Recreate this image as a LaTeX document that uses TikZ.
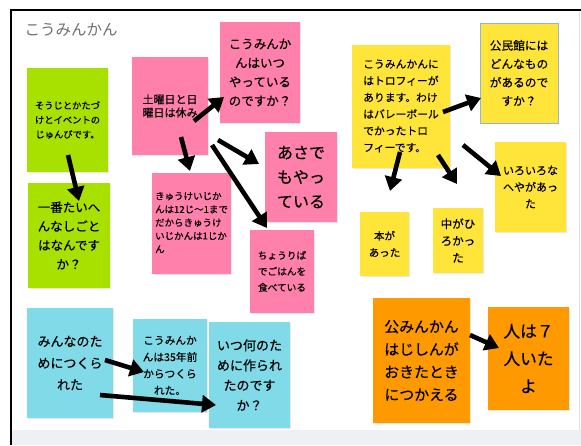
\documentclass[tikz,border=0pt]{standalone}
\usepackage{fontspec}
\setmainfont{Noto Sans CJK JP}
\newfontfamily\jp[FakeBold=0.4]{Noto Sans CJK JP}
\usetikzlibrary{arrows.meta,shadows}
\definecolor{gr}{RGB}{168,224,0}
\definecolor{pk}{RGB}{255,128,171}
\definecolor{yl}{RGB}{255,228,58}
\definecolor{cy}{RGB}{128,218,232}
\definecolor{org}{RGB}{255,153,0}
\definecolor{band}{RGB}{238,240,243}
\definecolor{ttl}{RGB}{112,112,112}
\definecolor{kb}{RGB}{143,180,224}
\tikzset{
  note/.style={inner sep=0pt, align=center, text=black,
    drop shadow={opacity=0.18, shadow xshift=1pt, shadow yshift=-1.2pt}},
  fs/.style 2 args={font=\jp\fontsize{#1}{#2}\selectfont},
  arr/.style={line width=4.6pt, -{Triangle[length=14pt,width=17pt]}}
}
\begin{document}
\begin{tikzpicture}[x=1pt,y=-1pt]
\useasboundingbox (0,0) rectangle (581,445);
\fill[white] (0,0) rectangle (581,445);
\fill[band] (11,430) rectangle (581,445);
\draw[black!12, line width=1pt] (579,10) -- (579,430);
\draw[line width=2pt] (10.5,445) -- (10.5,9.5) -- (581,9.5);
\node[anchor=west, text=ttl, font=\fontsize{15.5}{18}\selectfont] (title) at (21,30) {こうみんかん};
% green
\node[note, fill=gr, minimum width=81pt, minimum height=104pt, fs={9.3}{14.5}] (g1) at (67.5,120) {そうじとかたづ\\けとイベントの\\じゅんびです。};
\node[note, fill=gr, minimum width=82pt, minimum height=105pt, fs={12.5}{19}] (g2) at (69,235.5) {一番たいへ\\んなしごと\\はなんです\\か？};
% pink
\node[note, fill=pk, minimum width=76pt, minimum height=98pt, fs={11}{13.3}] (sat) at (170,106) {土曜日と日\\曜日は休み};
\node[note, fill=pk, minimum width=80pt, minimum height=101pt, fs={12.5}{19}] (when) at (260,72.5) {こうみんか\\んはいつ\\やっている\\のですか？};
\node[note, fill=pk, minimum width=72pt, minimum height=90pt, fs={16}{24.5}] (asa) at (301,177) {あさで\\もやっ\\ている};
\node[note, fill=pk, minimum width=79pt, minimum height=101pt, fs={9.5}{13.3}] (kyu) at (191.5,223.5) {\begin{tabular}{@{}l@{}}きゅうけいじか\\んは12じ～1まで\\だからきゅうけ\\いじかんは1じか\\ん\end{tabular}};
\node[note, fill=pk, minimum width=64pt, minimum height=83pt, fs={9.7}{16}] (chou) at (282,271.5) {ちょうりば\\でごはんを\\食べている};
% yellow
\node[note, fill=yl, minimum width=98pt, minimum height=123pt, fs={10.8}{16.7}] (trophy) at (401,106.5) {\begin{tabular}{@{}l@{}}こうみんかんに\\はトロフィーが\\あります。わけ\\はバレーボール\\でかったトロ\\フィーです。\end{tabular}};
\node[note, fill=yl, draw=kb, line width=0.8pt, minimum width=78pt, minimum height=100pt, fs={11.7}{18.5}] (kom) at (519,73) {公民館には\\どんなもの\\があるので\\すか？};
\node[note, fill=yl, minimum width=71pt, minimum height=90pt, fs={11}{16.7}] (iro) at (530.5,187) {いろいろな\\へやがあっ\\た};
\node[note, fill=yl, minimum width=49pt, minimum height=64pt, fs={10.5}{16.7}] (hon) at (384.5,244) {本が\\あった};
\node[note, fill=yl, minimum width=50pt, minimum height=65pt, fs={11.5}{17}] (naka) at (458,240.5) {中がひ\\ろかっ\\た};
% cyan
\node[note, fill=cy, minimum width=86pt, minimum height=110pt, fs={13}{21.7}] (min) at (70,363) {みんなのた\\めにつくら\\れた};
\node[note, fill=cy, minimum width=74pt, minimum height=93pt, fs={10.7}{16.7}] (k35) at (170,365.5) {こうみんか\\んは35年前\\からつくら\\れた。};
\node[note, fill=cy, minimum width=81pt, minimum height=106pt, fs={13}{20}] (itsu) at (249.5,375) {いつ何のた\\めに作られ\\たのです\\か？};
% orange
\node[note, fill=org, minimum width=97pt, minimum height=125pt, fs={14.9}{22.7}] (jishin) at (421.5,360.5) {公みんかん\\はじしんが\\おきたとき\\につかえる};
\node[note, fill=org, minimum width=81pt, minimum height=103pt, fs={16.7}{27.5}] (hito) at (528.5,358.5) {人は７\\人いた\\よ};
% arrow end points
\coordinate (a1s) at (68,155);  \coordinate (a1e) at (79,201);
\coordinate (a2s) at (194,121); \coordinate (a2e) at (224,97);
\coordinate (a3s) at (181,137); \coordinate (a3e) at (190,171);
\coordinate (a4s) at (218,140); \coordinate (a4e) at (259,164);
\coordinate (a5s) at (212,145); \coordinate (a5e) at (267,228);
\coordinate (a6s) at (443,112); \coordinate (a6e) at (481,98);
\coordinate (a7s) at (400,152); \coordinate (a7e) at (390,191);
\coordinate (a8s) at (438,155); \coordinate (a8e) at (457,184);
\coordinate (a9s) at (463,145); \coordinate (a9e) at (501,176);
\coordinate (a10s) at (105,360); \coordinate (a10e) at (144,372);
\coordinate (a11s) at (100,395); \coordinate (a11e) at (216,405);
\coordinate (a12s) at (470,335); \coordinate (a12e) at (499,348);
\draw[arr] (a1s) -- (a1e);
\draw[arr] (a2s) -- (a2e);
\draw[arr] (a3s) -- (a3e);
\draw[arr] (a4s) -- (a4e);
\draw[arr] (a5s) -- (a5e);
\draw[arr] (a6s) -- (a6e);
\draw[arr] (a7s) -- (a7e);
\draw[arr] (a8s) -- (a8e);
\draw[arr] (a9s) -- (a9e);
\draw[arr] (a10s) -- (a10e);
\draw[arr] (a11s) -- (a11e);
\draw[arr] (a12s) -- (a12e);
\end{tikzpicture}
\end{document}
